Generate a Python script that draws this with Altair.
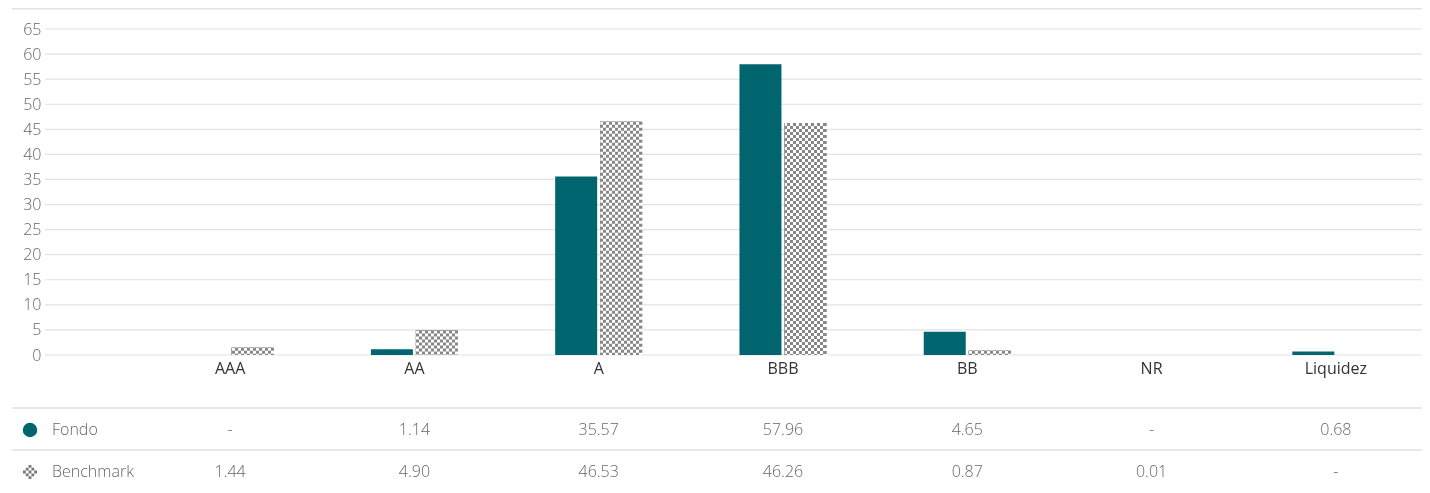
import altair as alt
import pandas as pd

# ---- data ----
cats = ["AAA", "AA", "A", "BBB", "BB", "NR", "Liquidez"]
fondo = [None, 1.14, 35.57, 57.96, 4.65, None, 0.68]
bench = [1.44, 4.90, 46.53, 46.26, 0.87, 0.01, None]
series = ["Fondo", "Benchmark"]
yticks = [0, 5, 10, 15, 20, 25, 30, 35, 40, 45, 50, 55, 60, 65]

TEAL = "#00656f"
FONT = "Open Sans"
W, H = 1377, 477

rows = []
for c, f, b in zip(cats, fondo, bench):
    for s, v in (("Fondo", f), ("Benchmark", b)):
        rows.append({"cat": c, "series": s, "value": v,
                     "label": "-" if v is None else f"{v:.2f}"})
df = pd.DataFrame(rows)
bars_df = df.dropna(subset=["value"]).copy()
bars_df["zero"] = 0.0
ticks_df = pd.DataFrame({"value": yticks})

xscale = alt.Scale(domain=cats, range=[93, 1383], paddingInner=0, paddingOuter=0)
xo_scale = alt.Scale(domain=series, range=[48.6, 135.6], paddingInner=0.0667, paddingOuter=0)
yscale = alt.Scale(domain=[0, 65], range=[347, 21], nice=False)

xaxis = alt.Axis(title=None, orient="bottom", offset=-(H - 347), labelPadding=5,
                 ticks=False, domain=False, labelAngle=0, labelFontSize=16,
                 labelColor="#333", labelFont=FONT, grid=False)
yaxis = alt.Axis(title=None, values=yticks, grid=False, ticks=False, domain=False,
                 labelPadding=4, labelFontSize=16, labelColor="#666", labelFont=FONT,
                 labelFontWeight=300, labelOverlap=False)

X = alt.X("cat:N", scale=xscale, sort=cats, title=None, axis=xaxis)
XO = alt.XOffset("series:N", scale=xo_scale)
Y = alt.Y("value:Q", scale=yscale, title=None, axis=yaxis)

# horizontal grid lines at the tick values
grid = alt.Chart(ticks_df).mark_rule(color="#e2e2e2", strokeWidth=1.2).encode(
    y=Y, x=alt.value(0), x2=alt.value(W))

fondo_bar = alt.Chart(bars_df).transform_filter(alt.datum.series == "Fondo").mark_bar(
    color=TEAL).encode(x=X, xOffset=XO, y=Y)

# checkered benchmark bars: vertical stripes XOR horizontal stripes, then lightened
stops = []
for k in range(14):
    col = "#000000" if k % 2 == 0 else "#ffffff"
    stops.append(alt.GradientStop(offset=k / 14, color=col))
    stops.append(alt.GradientStop(offset=(k + 1) / 14, color=col))
grad = alt.LinearGradient(gradient="linear", stops=stops, x1=0, x2=1, y1=0, y2=0)

bench_src = alt.Chart(bars_df).transform_filter(alt.datum.series == "Benchmark")
bench_base = bench_src.mark_bar(fill=grad).encode(x=X, xOffset=XO, y=Y)
bench_rows = bench_src.mark_rule(color="#ffffff", strokeWidth=42, strokeDash=[3, 3],
                                 blend="difference").encode(
    x=X, xOffset=XO, y=Y, y2="zero:Q")
bench_light = bench_src.mark_bar(fill="#ffffff", fillOpacity=0.53).encode(
    x=X, xOffset=XO, y=Y)

one = pd.DataFrame({"k": [0]})


def hline(yv):
    return alt.Chart(one).mark_rule(color="#e2e2e2", strokeWidth=1.5).encode(
        x=alt.value(-33), x2=alt.value(W), y=alt.value(yv))


row_y = {"Fondo": 422, "Benchmark": 464}

table_layers = []
for s in series:
    table_layers.append(
        alt.Chart(df).transform_filter(alt.datum.series == s).mark_text(
            fontSize=16, color="#666", fontWeight=300, font=FONT,
            align="center", baseline="middle"
        ).encode(x=X, y=alt.value(row_y[s]), text="label:N")
    )
    table_layers.append(
        alt.Chart(one).mark_text(
            fontSize=16, color="#666", fontWeight=300, font=FONT,
            align="left", baseline="middle"
        ).encode(x=alt.value(7), y=alt.value(row_y[s]), text=alt.value(s))
    )

# legend symbols
checker = []
for i in range(5):
    for j in range(5):
        cx, cy = -0.8 + 0.4 * i, -0.8 + 0.4 * j
        if (i + j) % 2 == 0 and abs(cx) + abs(cy) <= 1.0:
            x0, y0 = cx - 0.2, cy - 0.2
            checker.append(f"M{x0:.2f},{y0:.2f}h0.4v0.4h-0.4Z")
checker_path = "".join(checker)

sym_fondo = alt.Chart(one).mark_point(filled=True, size=210, color=TEAL, opacity=1).encode(
    x=alt.value(-15), y=alt.value(row_y["Fondo"]))
sym_bench = alt.Chart(one).mark_point(filled=True, size=200, shape=checker_path,
                                      color="#777777", opacity=1).encode(
    x=alt.value(-15), y=alt.value(row_y["Benchmark"]))

chart = alt.layer(
    hline(0.75), hline(400), hline(442), grid,
    fondo_bar, bench_base, bench_rows, bench_light,
    *table_layers, sym_fondo, sym_bench,
).properties(
    width=W, height=H,
    autosize=alt.AutoSizeParams(type="none"),
    padding={"left": 37, "top": 0, "right": 0, "bottom": 0},
).configure(font=FONT).configure_view(stroke=None)

chart.save("out.html", embed_options={"renderer": "svg", "actions": False})
